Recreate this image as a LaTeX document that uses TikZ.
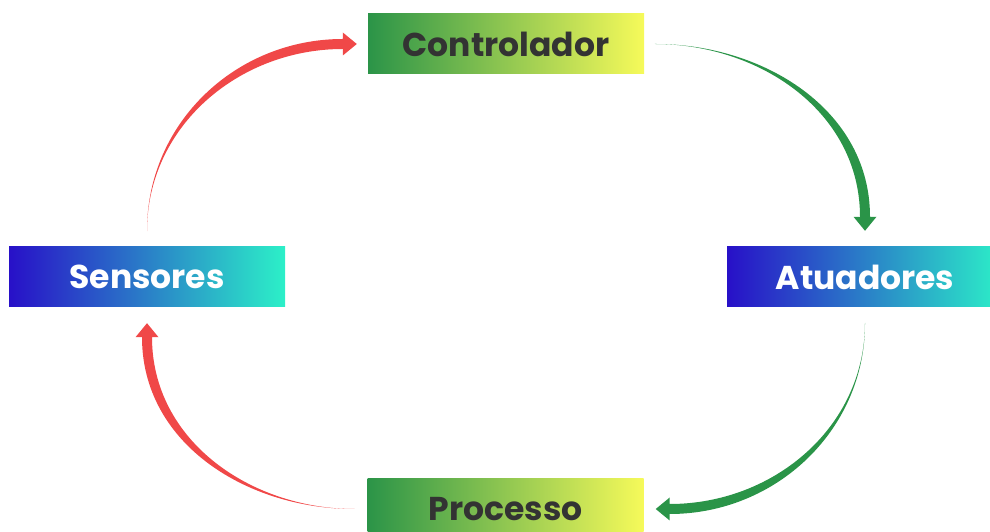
\documentclass[tikz,border=0pt]{standalone}
\usepackage{fontspec}
\setmainfont{Poppins}
\usepackage{tikz}
\definecolor{verdeesc}{HTML}{2B9448}
\definecolor{amarelo}{HTML}{F6FA5A}
\definecolor{azulesc}{HTML}{2810C8}
\definecolor{turquesa}{HTML}{2CF0C8}
\definecolor{vermelho}{HTML}{F04848}
\definecolor{verdeseta}{HTML}{2A9448}
\definecolor{cinza}{HTML}{333333}
\tikzstyle{caixa}=[rectangle, inner sep=0pt, minimum width=276pt, minimum height=60pt, font=\fontsize{33}{33}\selectfont\bfseries]
\tikzstyle{verde}=[left color=verdeesc, right color=amarelo, text=cinza]
\tikzstyle{azul}=[left color=azulesc, right color=turquesa, text=white]
\newcommand{\seta}[4]{%
  \pgfmathsetmacro{\sout}{#4+90}
  \pgfmathsetmacro{\sin}{#4+180}
  \pgfmathsetmacro{\sdir}{#4-90}
  \coordinate (e) at ([shift={(\sin:14)}]#3);
  \fill[#1] ([shift={(\sout:0.4)}]#2) to[out=\sout,in=\sin] ([shift={(\sout:5)}]e) -- ([shift={(\sout:11.5)}]e) -- (#3)
    -- ([shift={(\sdir:11.5)}]e) -- ([shift={(\sdir:5)}]e) to[out=\sin,in=\sout] ([shift={(\sdir:0.4)}]#2) -- cycle;
}

\begin{document}
\begin{tikzpicture}[x=1pt, y=1pt]
			\useasboundingbox (0,0) rectangle (990,532);
			\clip (0,0) rectangle (990,532);
			\draw (506,488) node[caixa, verde] (ctl) {Controlador};
			\draw (147,255) node[caixa, azul] (sen) {Sensores};
			\draw (865,255) node[caixa, azul] (atu) {Atuadores};
			\draw (505.5,23) node[caixa, verde] (pro) {Processo};
			\coordinate (s1) at ([yshift=16]sen.north);
			\coordinate (t1) at ([xshift=-11]ctl.west);
			\coordinate (s2) at ([xshift=11]ctl.east);
			\coordinate (t2) at ([yshift=16]atu.north);
			\coordinate (s3) at ([yshift=-16]atu.south);
			\coordinate (t3) at ([xshift=12]pro.east);
			\coordinate (s4) at ([xshift=-13]pro.west);
			\coordinate (t4) at ([yshift=-16]sen.south);
			\seta{vermelho}{s1}{t1}{0}
			\seta{verdeseta}{s2}{t2}{-90}
			\seta{verdeseta}{s3}{t3}{180}
			\seta{vermelho}{s4}{t4}{90}
		\end{tikzpicture}
\end{document}
